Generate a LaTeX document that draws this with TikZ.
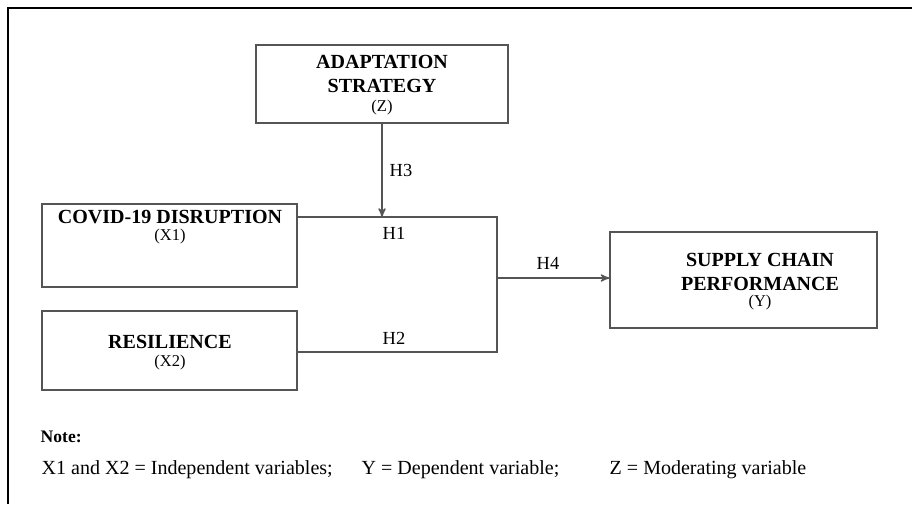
\documentclass[tikz,border=0pt]{standalone}
\usepackage{fontspec}
\setmainfont{Liberation Serif}
\usetikzlibrary{arrows}
\definecolor{line_gray}{RGB}{85,85,85}

\begin{document}
\begin{tikzpicture}[x=0.02cm,y=-0.02cm,line width=0.8pt,>=stealth']
    \tikzstyle{var}=[draw=line_gray, rectangle, inner sep=0pt, fill=none, text=black]
    \tikzstyle{title}=[font=\fontsize{11.4}{13.6}\selectfont\bfseries, align=center, inner sep=0pt]
    \tikzstyle{sub}=[font=\fontsize{9.4}{11}\selectfont, inner sep=0pt]
    \tikzstyle{hyp}=[font=\fontsize{10.5}{12}\selectfont, anchor=west, inner sep=0pt]
    \tikzstyle{note}=[font=\fontsize{11.4}{13}\selectfont, anchor=west, inner sep=0pt]

    \useasboundingbox (0,0) rectangle (912,504);
    \draw[black] (8,504) -- (8,8) -- (912,8);

    % boxes
    \node[var, minimum width=5.04cm, minimum height=1.56cm] (z)  at (382,84)    {};
    \node[var, minimum width=5.1cm,  minimum height=1.66cm] (x1) at (169.5,245.5) {};
    \node[var, minimum width=5.1cm,  minimum height=1.58cm] (x2) at (169.5,350.5) {};
    \node[var, minimum width=5.34cm, minimum height=1.92cm] (y)  at (743.5,280)  {};

    \node[title] (zt)  at (382,74)  {ADAPTATION\\STRATEGY};
    \node[sub]   (zs)  at (382,108) {(Z)};
    \node[title] (x1t) at (170,217) {COVID-19 DISRUPTION};
    \node[sub]   (x1s) at (170,237) {(X1)};
    \node[title] (x2t) at (170,342) {RESILIENCE};
    \node[sub]   (x2s) at (170,363) {(X2)};
    \node[title] (yt)  at (760,272) {SUPPLY CHAIN\\PERFORMANCE};
    \node[sub]   (ys)  at (760,303) {(Y)};

    % joins
    \coordinate (j1) at (497,217);
    \coordinate (j2) at (497,352);
    \coordinate (j3) at (497,278);

    \draw[line_gray] (j1 -| x1.east) -- (j1) -- (j2) -- (j2 -| x2.east);
    \draw[line_gray, ->] (z.south) -- (z.south |- j1);
    \draw[line_gray, ->] (j3) -- (j3 -| y.west);

    \node[hyp] (h3) at (389,170) {H3};
    \node[hyp] (h1) at (382,233) {H1};
    \node[hyp] (h2) at (382,338) {H2};
    \node[hyp] (h4) at (536,263) {H4};

    % note
    \node[note, font=\fontsize{10}{12}\selectfont\bfseries] (nt) at (40,437) {Note:};
    \node[note] (n1) at (41,470)  {X1 and X2 = Independent variables;};
    \node[note] (n2) at (361,470) {Y = Dependent variable;};
    \node[note] (n3) at (609,470) {Z = Moderating variable};
\end{tikzpicture}
\end{document}
